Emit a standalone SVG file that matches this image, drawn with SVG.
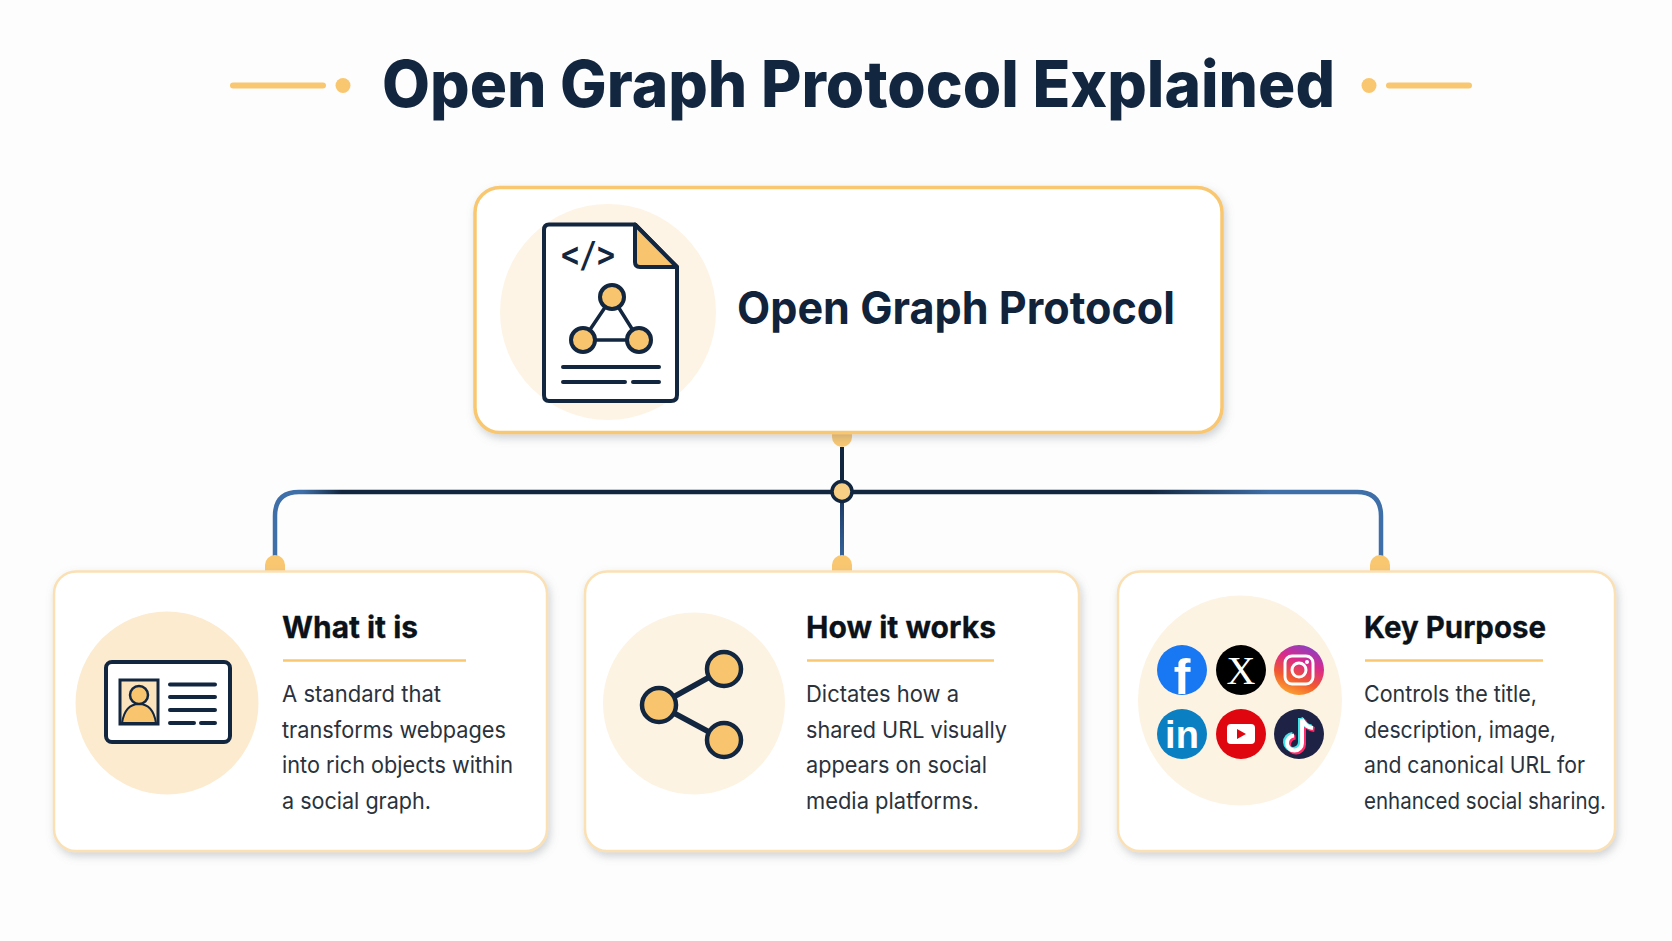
<svg xmlns="http://www.w3.org/2000/svg" width="1672" height="941" viewBox="0 0 1672 941">
<style>
text{font-family:"Inter","Noto Sans","Liberation Sans",sans-serif}
.t{font-weight:800;fill:#12263f}
.h{font-weight:700;font-size:30.500px;fill:#0c1219;stroke:#0c1219;stroke-width:0.3px}
.b{font-size:23px;fill:#2a323c}
.card{fill:#fff;stroke:#fbe0b4;stroke-width:2.5;filter:url(#sh)}
.deco{stroke:#f9c770;stroke-width:6;stroke-linecap:round;fill:none}
.dot{fill:#f9c770}
.rule{stroke:#f9c770;stroke-width:2.5;fill:none}
.ink{stroke:#12263f;fill:none;stroke-linecap:round;stroke-linejoin:round}
.fillo{fill:#f8c56e;stroke:#12263f;stroke-width:4}
</style>
<defs>
<filter id="sh" x="-5%" y="-5%" width="110%" height="115%"><feDropShadow dx="2" dy="4" stdDeviation="4" flood-color="#7d838b" flood-opacity="0.35"/></filter>
<linearGradient id="gh" gradientUnits="userSpaceOnUse" x1="275" y1="0" x2="1381" y2="0"><stop offset="0" stop-color="#3f6fa8"/><stop offset="0.025" stop-color="#3f6fa8"/><stop offset="0.06" stop-color="#12263f"/><stop offset="0.79" stop-color="#12263f"/><stop offset="0.9" stop-color="#3f6fa8"/><stop offset="1" stop-color="#3f6fa8"/></linearGradient>
<linearGradient id="gv" gradientUnits="userSpaceOnUse" x1="0" y1="500" x2="0" y2="556"><stop offset="0" stop-color="#1c3a63"/><stop offset="1" stop-color="#35639b"/></linearGradient>
<linearGradient id="ig" x1="0.2" y1="1" x2="0.6" y2="0"><stop offset="0" stop-color="#fdb033"/><stop offset="0.35" stop-color="#f2592e"/><stop offset="0.7" stop-color="#d92a8c"/><stop offset="1" stop-color="#8f3fbe"/></linearGradient>
</defs>
<rect width="1672" height="941" fill="#fdfdfd"/>

<g id="title">
<path class="deco" d="M233 85.500H323M1389 85.500H1469"/>
<circle class="dot" cx="343" cy="85.500" r="7.500"/><circle class="dot" cx="1369" cy="85.500" r="7.500"/>
<text class="t" x="382" y="107" font-size="64" textLength="953" lengthAdjust="spacingAndGlyphs">Open Graph Protocol Explained</text>
</g>

<g id="connectors" fill="none">
<path d="M842 447V482" stroke="#12263f" stroke-width="4"/>
<path d="M842 502V556" stroke="url(#gv)" stroke-width="4"/>
<path d="M275 556V516Q275 492 299 492H1357Q1381 492 1381 516V556" stroke="url(#gh)" stroke-width="4.500"/>
<path class="dot" d="M832 433H852V437A10 10 0 0 1 832 437Z"/>
<circle cx="842" cy="491.500" r="10" fill="#f9cf85" stroke="#12263f" stroke-width="3.500"/>
<path class="dot" d="M265 572V565A10 10 0 0 1 285 565V572Z"/>
<path class="dot" d="M832 572V565A10 10 0 0 1 852 565V572Z"/>
<path class="dot" d="M1370 572V565A10 10 0 0 1 1390 565V572Z"/>
</g>

<g id="main-node">
<rect x="475" y="187.500" width="747" height="245" rx="25" fill="#fff" stroke="#f9c770" stroke-width="3.500" filter="url(#sh)"/>
<circle cx="608" cy="312" r="108" fill="#fdf4e6"/>
<path d="M549 224.500H635L677 267V395Q677 401 671 401H549Q544 401 544 395V230Q544 224.500 549 224.500Z" fill="#fff" stroke="#12263f" stroke-width="4" stroke-linejoin="round"/>
<path d="M635 224.500V262Q635 267 640 267H677Z" fill="#f8c56e" stroke="#12263f" stroke-width="4" stroke-linejoin="round"/>
<text x="561" y="267" font-size="36" font-weight="700" fill="#12263f" style="font-family:'DejaVu Sans Mono',monospace" textLength="54" lengthAdjust="spacingAndGlyphs">&lt;/&gt;</text>
<path class="ink" stroke-width="3.500" d="M612 297L583 340H639Z"/>
<circle cx="612" cy="297" r="12" class="fillo"/>
<circle cx="583" cy="340" r="12" class="fillo"/>
<circle cx="639" cy="340" r="12" class="fillo"/>
<path class="ink" stroke-width="4" d="M563 367H659M563 382H625M633 382H659"/>
<text class="t" x="737" y="324" font-size="45" textLength="438" lengthAdjust="spacingAndGlyphs" style="font-weight:700;fill:#10233b">Open Graph Protocol</text>
</g>

<g id="card-what">
<rect class="card" x="54" y="571.500" width="493" height="279.500" rx="22"/>
<circle cx="167" cy="703" r="91.500" fill="#fcebcf"/>
<rect x="106" y="662" width="124" height="80" rx="6" fill="#fff" stroke="#12263f" stroke-width="4"/>
<rect x="120" y="680" width="38" height="44" fill="#fbe3bd" stroke="#12263f" stroke-width="3"/>
<path d="M122 723Q125 704 139 704Q153 704 156 723Z" fill="#f8c56e" stroke="#12263f" stroke-width="2"/>
<circle cx="139" cy="695" r="9" fill="#f8c56e" stroke="#12263f" stroke-width="2.500"/>
<path class="ink" stroke-width="4" d="M170 684.500H215M170 697H215M170 710H215M170 723H194M201 723H215"/>
<text class="h" x="282" y="638" textLength="136" lengthAdjust="spacingAndGlyphs">What it is</text>
<path class="rule" d="M283 660.500H466"/>
<text class="b" x="282" y="702" textLength="159" lengthAdjust="spacingAndGlyphs">A standard that</text>
<text class="b" x="282" y="737.500" textLength="224" lengthAdjust="spacingAndGlyphs">transforms webpages</text>
<text class="b" x="282" y="773" textLength="231" lengthAdjust="spacingAndGlyphs">into rich objects within</text>
<text class="b" x="282" y="808.500" textLength="149" lengthAdjust="spacingAndGlyphs">a social graph.</text>
</g>

<g id="card-how">
<rect class="card" x="585" y="571.500" width="494" height="279.500" rx="22"/>
<circle cx="694" cy="703.500" r="91" fill="#fdf3e3"/>
<path class="ink" stroke-width="5.500" d="M724 669L659 705L724 740"/>
<circle cx="724" cy="669" r="17" class="fillo" style="stroke-width:4.5"/>
<circle cx="659" cy="705" r="17" class="fillo" style="stroke-width:4.5"/>
<circle cx="724" cy="740" r="17" class="fillo" style="stroke-width:4.5"/>
<text class="h" x="806" y="638" textLength="190" lengthAdjust="spacingAndGlyphs">How it works</text>
<path class="rule" d="M807 660.500H994"/>
<text class="b" x="806" y="702" textLength="153" lengthAdjust="spacingAndGlyphs">Dictates how a</text>
<text class="b" x="806" y="737.500" textLength="201" lengthAdjust="spacingAndGlyphs">shared URL visually</text>
<text class="b" x="806" y="773" textLength="181" lengthAdjust="spacingAndGlyphs">appears on social</text>
<text class="b" x="806" y="808.500" textLength="173" lengthAdjust="spacingAndGlyphs">media platforms.</text>
</g>

<g id="card-purpose">
<rect class="card" x="1118" y="571.500" width="497" height="279.500" rx="22"/>
<ellipse cx="1240" cy="700.500" rx="102" ry="105" fill="#fdf3e3"/>
<circle cx="1182" cy="670" r="25" fill="#1877f2"/>
<text x="1182" y="694" font-size="50" font-weight="700" fill="#fff" text-anchor="middle" style="font-family:'Liberation Sans',sans-serif">f</text>
<circle cx="1241" cy="670" r="25" fill="#000"/>
<text x="1241" y="684" font-size="40" fill="#fff" text-anchor="middle" style="font-family:'Liberation Serif',serif">X</text>
<circle cx="1299" cy="670" r="25" fill="url(#ig)"/>
<rect x="1285" y="656" width="28" height="28" rx="7" fill="none" stroke="#fff" stroke-width="3"/>
<circle cx="1299" cy="670" r="7" fill="none" stroke="#fff" stroke-width="3"/>
<circle cx="1307" cy="662" r="2" fill="#fff"/>
<circle cx="1182" cy="734" r="25" fill="#0a7fc2"/>
<text x="1182" y="748" font-size="38" font-weight="700" fill="#fff" text-anchor="middle" style="font-family:'Liberation Sans',sans-serif">in</text>
<circle cx="1241" cy="734" r="25" fill="#e0060f"/>
<rect x="1227" y="724" width="28" height="20" rx="4" fill="#fff"/>
<path d="M1237 729L1246 734L1237 739Z" fill="#e0060f"/>
<circle cx="1299" cy="734" r="25" fill="#1e2346"/>
<path d="M1302 719V743A7.500 7.500 0 1 1 1294 735.500M1302 719Q1305 727 1313 728" fill="none" stroke="#ff2d6b" stroke-width="5" transform="translate(1.500 1.500)"/>
<path d="M1302 719V743A7.500 7.500 0 1 1 1294 735.500M1302 719Q1305 727 1313 728" fill="none" stroke="#3fe3e8" stroke-width="5" transform="translate(-1.500 -1)"/>
<path d="M1302 719V743A7.500 7.500 0 1 1 1294 735.500M1302 719Q1305 727 1313 728" fill="none" stroke="#fff" stroke-width="4"/>
<text class="h" x="1364" y="638" textLength="182" lengthAdjust="spacingAndGlyphs">Key Purpose</text>
<path class="rule" d="M1365 660.500H1543"/>
<text class="b" x="1364" y="702" textLength="173" lengthAdjust="spacingAndGlyphs">Controls the title,</text>
<text class="b" x="1364" y="737.500" textLength="192" lengthAdjust="spacingAndGlyphs">description, image,</text>
<text class="b" x="1364" y="773" textLength="221" lengthAdjust="spacingAndGlyphs">and canonical URL for</text>
<text class="b" x="1364" y="808.500" textLength="242" lengthAdjust="spacingAndGlyphs">enhanced social sharing.</text>
</g>
</svg>
